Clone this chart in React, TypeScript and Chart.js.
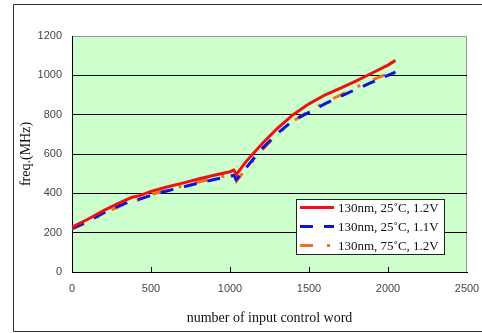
import React, { useEffect, useRef } from "react";
import { Chart, registerables } from "chart.js";

Chart.register(...registerables);

const controlWords = [0, 100, 200, 300, 380, 420, 500, 600, 700, 800, 900, 1000, 1024, 1040, 1100, 1200, 1300, 1400, 1500, 1600, 1700, 1800, 1900, 2000, 2047];
const freq25C12V = [228, 268, 312, 352, 380, 386, 410, 432, 452, 473, 492, 510, 518, 495, 560, 650, 730, 800, 855, 900, 935, 972, 1012, 1052, 1076];
const freq25C11V = [222, 258, 300, 337, 362, 368, 390, 412, 432, 452, 470, 487, 492, 470, 528, 625, 705, 770, 812, 855, 893, 930, 965, 1000, 1016];
const freq75C12V = [218, 254, 297, 334, 360, 367, 393, 416, 438, 458, 477, 493, 497, 462, 522, 618, 700, 768, 818, 862, 900, 940, 976, 1008, 1020];

const seriesLabels = ["130nm, 25˚C, 1.2V", "130nm, 25˚C, 1.1V", "130nm, 75˚C, 1.2V"];
const seriesColors = ["#ee1111", "#1111dd", "#f07020"];
const seriesDashes: number[][] = [[], [13, 11], [13, 14, 3, 14]];

const xTickValues = [0, 500, 1000, 1500, 2000, 2500];
const yTickValues = [0, 200, 400, 600, 800, 1000, 1200];
const xTitle = "number of input control word";
const yTitle = "freq.(MHz)";

const decorPlugin = {
  id: "decor",
  beforeDraw(chart: any) {
    const { ctx, chartArea: a } = chart;
    ctx.save();
    ctx.fillStyle = "#ffffff";
    ctx.fillRect(0, 0, chart.width, chart.height);
    ctx.strokeStyle = "#333333";
    ctx.lineWidth = 1;
    ctx.beginPath();
    ctx.moveTo(chart.width + 2, 4.5);
    ctx.lineTo(13.5, 4.5);
    ctx.lineTo(13.5, 331.5);
    ctx.lineTo(chart.width + 2, 331.5);
    ctx.stroke();
    ctx.fillStyle = "#ccffcc";
    ctx.fillRect(a.left, a.top, a.right - a.left, a.bottom - a.top);
    ctx.strokeStyle = "#999999";
    ctx.beginPath();
    ctx.moveTo(a.left, a.top + 0.5);
    ctx.lineTo(a.right - 0.5, a.top + 0.5);
    ctx.lineTo(a.right - 0.5, a.bottom);
    ctx.stroke();
    ctx.restore();
  },
  afterDraw(chart: any) {
    const { ctx, chartArea: a } = chart;
    const xs = chart.scales.x;
    ctx.save();
    ctx.strokeStyle = "#000000";
    ctx.lineWidth = 1;
    ctx.beginPath();
    xTickValues.slice(1, -1).forEach((v) => {
      const px = Math.round(xs.getPixelForValue(v)) + 0.5;
      ctx.moveTo(px, a.bottom);
      ctx.lineTo(px, a.bottom - 5);
    });
    ctx.stroke();

    // legend
    const lx = 296.5, ly = 199.5, lw = 148, lh = 55;
    ctx.fillStyle = "#ffffff";
    ctx.fillRect(lx, ly, lw, lh);
    ctx.strokeStyle = "#222222";
    ctx.strokeRect(lx, ly, lw, lh);
    const rows = [207.5, 226.5, 245.5];
    chart.data.datasets.forEach((ds: any, i: number) => {
      ctx.strokeStyle = ds.borderColor;
      ctx.lineWidth = 3;
      ctx.setLineDash(ds.borderDash || []);
      ctx.beginPath();
      ctx.moveTo(300, rows[i]);
      ctx.lineTo(334, rows[i]);
      ctx.stroke();
      ctx.setLineDash([]);
      ctx.fillStyle = "#111111";
      ctx.font = "13px 'Liberation Serif'";
      ctx.textBaseline = "middle";
      ctx.textAlign = "left";
      ctx.fillText(ds.label, 338, rows[i] + 1);
    });
    ctx.restore();
  },
};

export default function App() {
  const ref = useRef<HTMLCanvasElement | null>(null);
  useEffect(() => {
    document.body.style.margin = "0";
    if (!ref.current) return;
    const series = [freq25C12V, freq25C11V, freq75C12V];
    const chart = new Chart(ref.current, {
      type: "line",
      data: {
        datasets: series.map((vals, i) => ({
          label: seriesLabels[i],
          data: controlWords.map((x, j) => ({ x, y: vals[j] })),
          borderColor: seriesColors[i],
          backgroundColor: seriesColors[i],
          borderDash: seriesDashes[i],
          borderWidth: 3,
          pointRadius: 0,
          tension: 0,
          fill: false,
        })),
      },
      options: {
        responsive: false,
        animation: false,
        layout: { padding: { top: 36, right: 15, left: 0, bottom: 0 } },
        plugins: { legend: { display: false }, tooltip: { enabled: false } },
        scales: {
          x: {
            type: "linear",
            min: 0,
            max: 2500,
            afterFit: (s: any) => { s.height = 61; s.paddingLeft = 0; s.paddingRight = 0; },
            afterBuildTicks: (s: any) => { s.ticks = xTickValues.map((v) => ({ value: v })); },
            grid: { display: false, drawTicks: false },
            border: { display: true, color: "#000000", width: 1 },
            ticks: { padding: 10, color: "#444444", font: { family: "'Liberation Sans'", size: 11 }, maxRotation: 0, callback: (v: any) => String(v) },
            title: { display: true, text: xTitle, color: "#111111", font: { family: "'Liberation Serif'", size: 14 }, padding: { top: 0, bottom: 6 } },
          },
          y: {
            type: "linear",
            min: 0,
            max: 1200,
            afterFit: (s: any) => { s.width = 72; s.paddingTop = 0; s.paddingBottom = 0; },
            afterBuildTicks: (s: any) => { s.ticks = yTickValues.map((v) => ({ value: v })); },
            grid: {
              drawTicks: false,
              color: (c: any) => (c.tick && c.tick.value === 1200 ? "rgba(0,0,0,0)" : "#000000"),
              lineWidth: 1,
            },
            border: { display: true, color: "#000000", width: 1 },
            ticks: { padding: 10, color: "#444444", font: { family: "'Liberation Sans'", size: 11 }, callback: (v: any) => String(v) },
            title: { display: true, text: yTitle, color: "#111111", font: { family: "'Liberation Serif'", size: 14 }, padding: { top: 18, bottom: 0 } },
          },
        },
      },
      plugins: [decorPlugin],
    } as any);
    return () => chart.destroy();
  }, []);
  return <canvas ref={ref} width={482} height={333} style={{ display: "block" }} />;
}
